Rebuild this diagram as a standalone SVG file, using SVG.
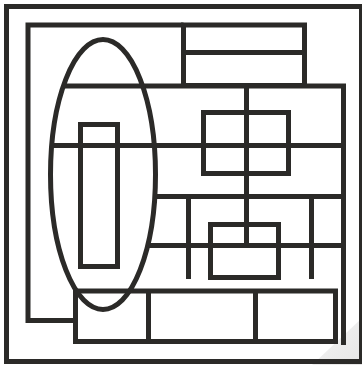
<svg xmlns="http://www.w3.org/2000/svg" width="362" height="365" viewBox="0 0 362 365">
  <style>
    .s { fill: none; stroke: #2b2a28; stroke-width: 5; stroke-linecap: butt; stroke-linejoin: miter; }
  </style>
  <rect width="362" height="365" fill="#ffffff"/>
  <defs>
    <linearGradient id="curl" x1="0" y1="0" x2="1" y2="1">
      <stop offset="0" stop-color="#f4f4f4"/>
      <stop offset="1" stop-color="#e6e6e6"/>
    </linearGradient>
  </defs>
  <polygon id="corner-shade" points="312,365 362,318 362,365" fill="url(#curl)"/>
  <g id="frame">
    <rect id="outer-frame" class="s" x="6.5" y="6.5" width="355" height="355"/>
    <path id="inner-frame" class="s" d="M75.5,320.5 H28 V25 H183.5"/>
  </g>
  <g id="top-box">
    <rect class="s" x="183.5" y="25" width="121" height="60.5"/>
    <line class="s" x1="183.5" y1="52.5" x2="304.5" y2="52.5"/>
  </g>
  <g id="connectors">
    <path class="s" d="M63.4,86 H343.5 V345"/>
    <line class="s" x1="51.7" y1="145.5" x2="343.5" y2="145.5"/>
    <line class="s" x1="154.8" y1="196.5" x2="343.5" y2="196.5"/>
    <line class="s" x1="147.7" y1="245.5" x2="343.5" y2="245.5"/>
    <line class="s" x1="246.5" y1="86" x2="246.5" y2="245.5"/>
    <line class="s" x1="188.5" y1="196.5" x2="188.5" y2="279"/>
    <line class="s" x1="311.5" y1="196.5" x2="311.5" y2="279"/>
  </g>
  <g id="upper-box">
    <rect class="s" x="203.5" y="112.5" width="85" height="61"/>
  </g>
  <g id="lower-box">
    <rect class="s" x="210.5" y="224.5" width="68" height="53"/>
  </g>
  <g id="bottom-boxes">
    <rect class="s" x="75.5" y="291" width="260" height="50.5"/>
    <line class="s" x1="148.5" y1="291" x2="148.5" y2="341.5"/>
    <line class="s" x1="255.5" y1="291" x2="255.5" y2="341.5"/>
  </g>
  <g id="tall-box">
    <rect class="s" x="80.5" y="124.5" width="37" height="142"/>
  </g>
  <g id="ellipse">
    <ellipse class="s" cx="103" cy="174.5" rx="52.5" ry="135"/>
  </g>
</svg>
